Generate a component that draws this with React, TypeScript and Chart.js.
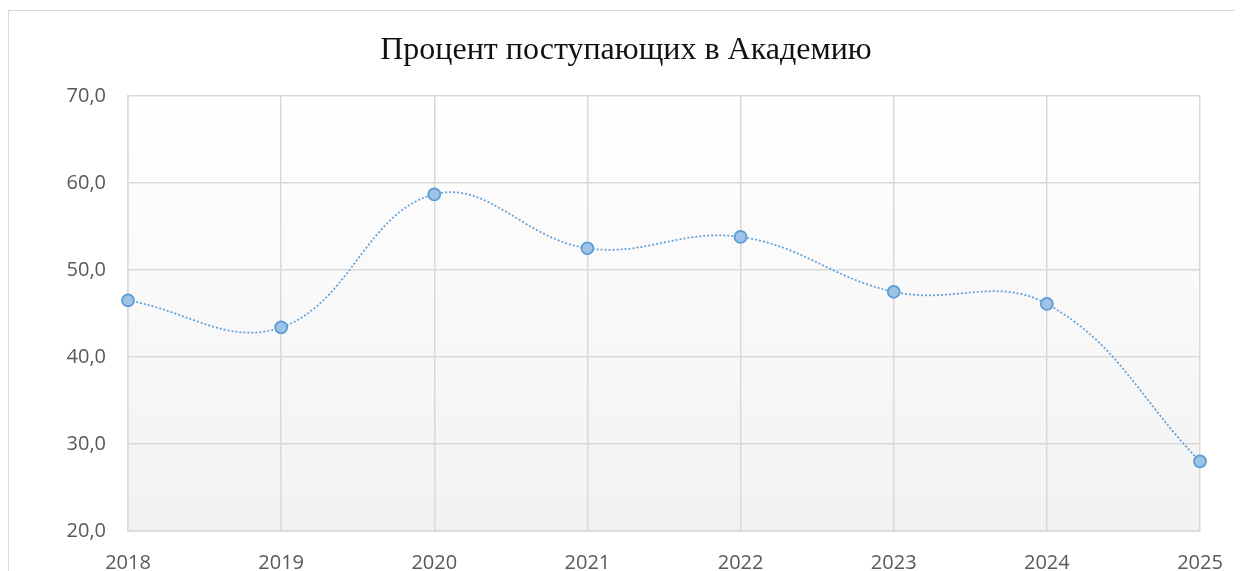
import React, { useEffect, useRef } from "react";
import { Chart, registerables } from "chart.js";

Chart.register(...registerables);

const categories = ["2018", "2019", "2020", "2021", "2022", "2023", "2024", "2025"];
const seriesValues = [46.5, 43.4, 58.7, 52.5, 53.8, 47.5, 46.1, 28.0];
const yTicks = [20, 30, 40, 50, 60, 70];
const titleText = "Процент поступающих в Академию";

const plotBg = {
  id: "plotBg",
  afterLayout(chart: any) {
    if (chart.titleBlock) {
      chart.titleBlock.left = 0;
      chart.titleBlock.right = chart.width;
    }
  },
  beforeDraw(chart: any) {
    const { ctx, chartArea } = chart;
    if (!chartArea) return;
    const g = ctx.createLinearGradient(0, chartArea.top, 0, chartArea.bottom);
    g.addColorStop(0, "#ffffff");
    g.addColorStop(1, "#f2f2f2");
    ctx.save();
    ctx.fillStyle = g;
    ctx.fillRect(chartArea.left, chartArea.top, chartArea.right - chartArea.left, chartArea.bottom - chartArea.top);
    ctx.restore();
  },
};

export default function App() {
  const ref = useRef<HTMLCanvasElement | null>(null);
  useEffect(() => {
    if (!ref.current) return;
    const chart = new Chart(ref.current, {
      type: "line",
      data: {
        labels: categories,
        datasets: [
          {
            data: seriesValues,
            borderColor: "rgba(91,155,213,0.95)",
            borderWidth: 1.75,
            borderDash: [2, 2],
            tension: 0.4,
            pointRadius: 6,
            pointHoverRadius: 6,
            pointBackgroundColor: "#9dc3e6",
            pointBorderColor: "#5b9bd5",
            pointBorderWidth: 1.75,
            fill: false,
          },
        ],
      },
      options: {
        responsive: false,
        animation: false,
        layout: { padding: { top: 0, right: 43, bottom: 0, left: 0 } },
        plugins: {
          legend: { display: false },
          tooltip: { enabled: false },
          title: {
            display: true,
            text: titleText,
            color: "#111111",
            font: { family: "'Liberation Serif', 'Times New Roman', serif", size: 32, weight: "normal" },
            padding: { top: 20, bottom: 26.6 },
          },
        },
        scales: {
          x: {
            type: "category",
            offset: false,
            grid: { color: "#d9d9d9", lineWidth: 1.5, drawTicks: false, offset: false },
            border: { display: true, color: "#d9d9d9", width: 1.5 },
            ticks: {
              color: "#595959",
              font: { family: "'Open Sans', sans-serif", size: 20 },
              padding: 20,
              maxRotation: 0,
              autoSkip: false,
            },
            afterFit(scale: any) {
              scale.height = 40;
            },
          },
          y: {
            min: 20,
            max: 70,
            afterBuildTicks(scale: any) {
              scale.ticks = yTicks.map((v) => ({ value: v }));
            },
            grid: { color: "#d9d9d9", lineWidth: 1.5, drawTicks: false },
            border: { display: true, color: "#d9d9d9", width: 1.5 },
            ticks: {
              color: "#595959",
              font: { family: "'Open Sans', sans-serif", size: 20 },
              padding: 22,
              callback: (v: any) => Number(v).toFixed(1).replace(".", ","),
            },
            afterFit(scale: any) {
              scale.width = 119;
            },
          },
        },
      },
      plugins: [plotBg],
    });
    return () => chart.destroy();
  }, []);

  return (
    <div style={{ paddingTop: 2 }}>
      <div
        style={{
          width: 1235,
          height: 561,
          borderTop: "1px solid #d9d9d9",
          borderLeft: "1px solid #d9d9d9",
          boxSizing: "border-box",
          overflow: "hidden",
          background: "#fff",
        }}
      >
        <canvas ref={ref} width={1234} height={560} style={{ display: "block" }} />
      </div>
    </div>
  );
}
